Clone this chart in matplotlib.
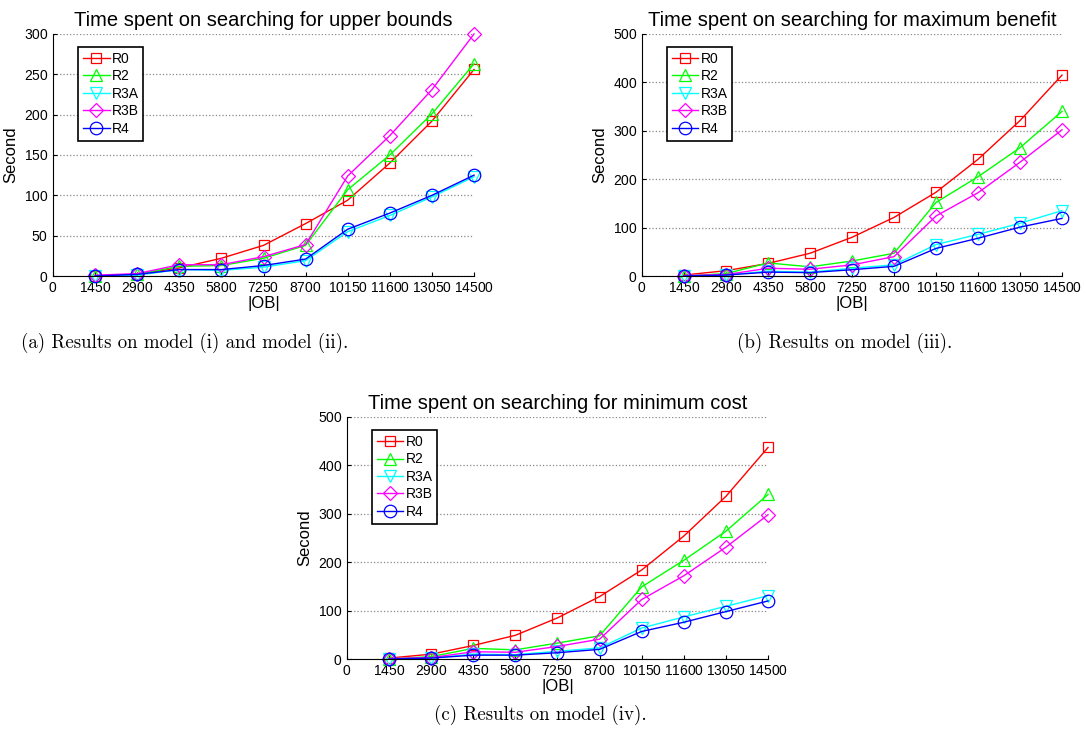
import matplotlib.pyplot as plt
import numpy as np

plt.rcParams['font.family'] = ['Liberation Sans', 'DejaVu Sans']
plt.rcParams['axes.formatter.use_mathtext'] = True

ob = [1450, 2900, 4350, 5800, 7250, 8700, 10150, 11600, 13050, 14500]
names = ['R0', 'R2', 'R3A', 'R3B', 'R4']

# (a) upper bounds
a_r0 = [0, 2, 10, 22, 38, 65, 94, 140, 192, 256]
a_r2 = [0, 2, 12, 13, 22, 38, 107, 150, 201, 263]
a_r3a = [0, 1, 8, 7, 11, 19, 55, 75, 98, 123]
a_r3b = [1, 3, 14, 14, 24, 39, 124, 174, 231, 300]
a_r4 = [0, 2, 8, 8, 13, 21, 58, 78, 100, 125]

# (b) maximum benefit
b_r0 = [2, 11, 26, 47, 80, 121, 173, 241, 321, 415]
b_r2 = [0, 5, 27, 19, 31, 47, 152, 205, 265, 340]
b_r3a = [0, 2, 10, 8, 16, 23, 65, 86, 109, 135]
b_r3b = [1, 3, 16, 14, 23, 40, 124, 172, 235, 302]
b_r4 = [0, 2, 8, 7, 13, 20, 57, 78, 101, 119]

# (c) minimum cost
c_r0 = [2, 10, 28, 49, 85, 129, 184, 254, 336, 437]
c_r2 = [0, 5, 22, 19, 33, 48, 149, 204, 264, 340]
c_r3a = [0, 2, 10, 9, 16, 23, 64, 87, 109, 131]
c_r3b = [1, 3, 15, 14, 26, 41, 123, 172, 231, 298]
c_r4 = [0, 2, 8, 8, 13, 20, 57, 76, 98, 120]

colors = ['#ff0000', '#00ff00', '#00ffff', '#ff00ff', '#0000ff']
markers = ['s', '^', 'v', 'D', 'o']
msizes = [7, 9, 9, 7, 9]

fig = plt.figure(figsize=(10.86, 7.38), dpi=100)


def panel(rect, series, ymax, ystep, title, caption, cap_xy):
    ax = fig.add_axes(rect)
    for y, nm, c, m, ms in zip(series, names, colors, markers, msizes):
        ax.plot(ob, y, color=c, marker=m, markersize=ms, markerfacecolor='none',
                markeredgewidth=0.9, linewidth=1, label=nm, clip_on=False)
    ax.set_xlim(0, 14500)
    ax.set_ylim(0, ymax)
    ax.set_xticks([0] + ob)
    ax.set_yticks(np.arange(0, ymax + 1, ystep))
    ax.tick_params(labelsize=10, direction='in', length=3)
    ax.yaxis.grid(True, linestyle=':', color='#888888', linewidth=0.9)
    ax.spines['top'].set_visible(False)
    ax.spines['right'].set_visible(False)
    ax.set_title(title, fontsize=14.5, pad=6)
    ax.set_xlabel('|OB|', fontsize=12, labelpad=1)
    ax.set_ylabel('Second', fontsize=12, labelpad=4)
    leg = ax.legend(loc='upper left', bbox_to_anchor=(0.06, 0.946), fontsize=10,
                    fancybox=False, edgecolor='black', framealpha=1,
                    handlelength=1.9, borderpad=0.35, labelspacing=0.25,
                    handletextpad=0.15, borderaxespad=0)
    leg.get_frame().set_linewidth(1.2)
    fig.text(cap_xy[0], cap_xy[1], caption, ha='center', va='center',
             fontsize=13.6, family='cmr10')


panel([0.0488, 0.626, 0.3877, 0.328], [a_r0, a_r2, a_r3a, a_r3b, a_r4], 300, 50,
      'Time spent on searching for upper bounds',
      '(a) Results on model (i) and model (ii).', (185 / 1086, 1 - 343 / 738))
panel([0.5912, 0.626, 0.3867, 0.328], [b_r0, b_r2, b_r3a, b_r3b, b_r4], 500, 100,
      'Time spent on searching for maximum benefit',
      '(b) Results on model (iii).', (845 / 1086, 1 - 343 / 738))
panel([0.3195, 0.107, 0.3877, 0.328], [c_r0, c_r2, c_r3a, c_r3b, c_r4], 500, 100,
      'Time spent on searching for minimum cost',
      '(c) Results on model (iv).', (540 / 1086, 1 - 715 / 738))

fig.savefig('out.png', dpi=100)
